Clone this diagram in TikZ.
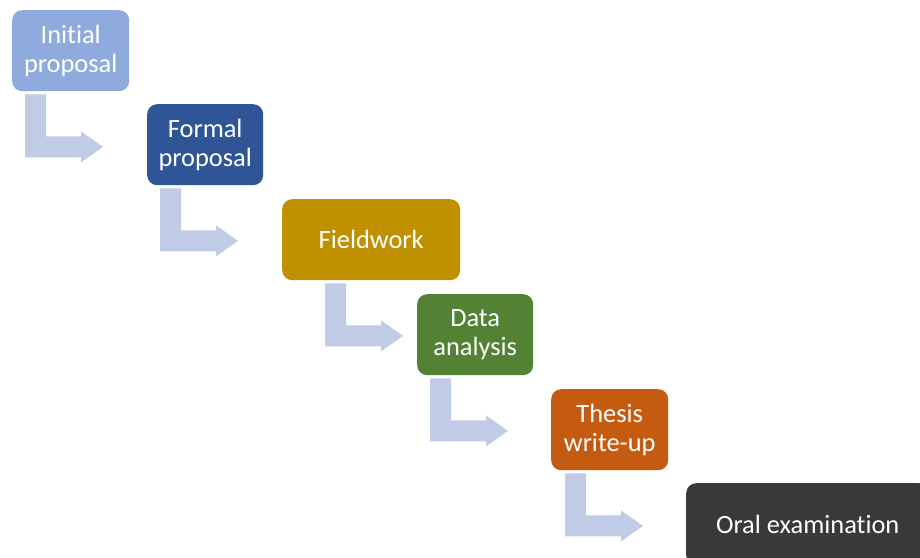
\documentclass[tikz,border=0pt]{standalone}
\usepackage{fontspec}
\setmainfont{Carlito}[Ligatures=NoCommon]
\usetikzlibrary{calc}
\definecolor{cInit}{HTML}{8FAADC}
\definecolor{cFormal}{HTML}{2F5597}
\definecolor{cField}{HTML}{BF9000}
\definecolor{cData}{HTML}{548235}
\definecolor{cThesis}{HTML}{C55A11}
\definecolor{cOral}{HTML}{3B3838}
\definecolor{cArrow}{HTML}{C0CBE5}
\tikzset{
  stepbox/.style={rounded corners=10pt, inner sep=0pt, anchor=north west,
    text=white, align=center, font=\fontsize{26.4}{29}\selectfont,
    minimum height=81pt},
  arrowfill/.style={fill=cArrow}
}
\newcommand\bentarrow[1]{%
  \fill[arrowfill, shift={(#1)}] (0,0) -- (21,0) -- (21,42) -- (56,42) -- (56,37)
    -- (78,52.5) -- (56,68) -- (56,63) -- (0,63) -- cycle;}
\begin{document}
\begin{tikzpicture}[x=1pt, y=-1pt]
\useasboundingbox (0,0) rectangle (920,557);
\clip (0,0) rectangle (920,557);
\node[stepbox, fill=cInit, minimum width=117pt] (b1) at (12,10) {Initial\\proposal};
\node[stepbox, fill=cFormal, minimum width=116pt] (b2) at (147,104) {Formal\\proposal};
\node[stepbox, fill=cField, minimum width=178pt] (b3) at (282,199) {Fieldwork};
\node[stepbox, fill=cData, minimum width=116pt] (b4) at (417,294) {Data\\analysis};
\node[stepbox, fill=cThesis, minimum width=117pt] (b5) at (551,389) {Thesis\\write-up};
\node[stepbox, fill=cOral, minimum width=243pt, minimum height=82pt] (b6) at (686,483) {Oral examination};
\coordinate (a1) at ($(b1.south west)+(13,3)$);
\coordinate (a2) at ($(b2.south west)+(13,3)$);
\coordinate (a3) at ($(b3.south west)+(43,3)$);
\coordinate (a4) at ($(b4.south west)+(13,3)$);
\coordinate (a5) at ($(b5.south west)+(14,3)$);
\bentarrow{a1}
\bentarrow{a2}
\bentarrow{a3}
\bentarrow{a4}
\bentarrow{a5}
\end{tikzpicture}
\end{document}
